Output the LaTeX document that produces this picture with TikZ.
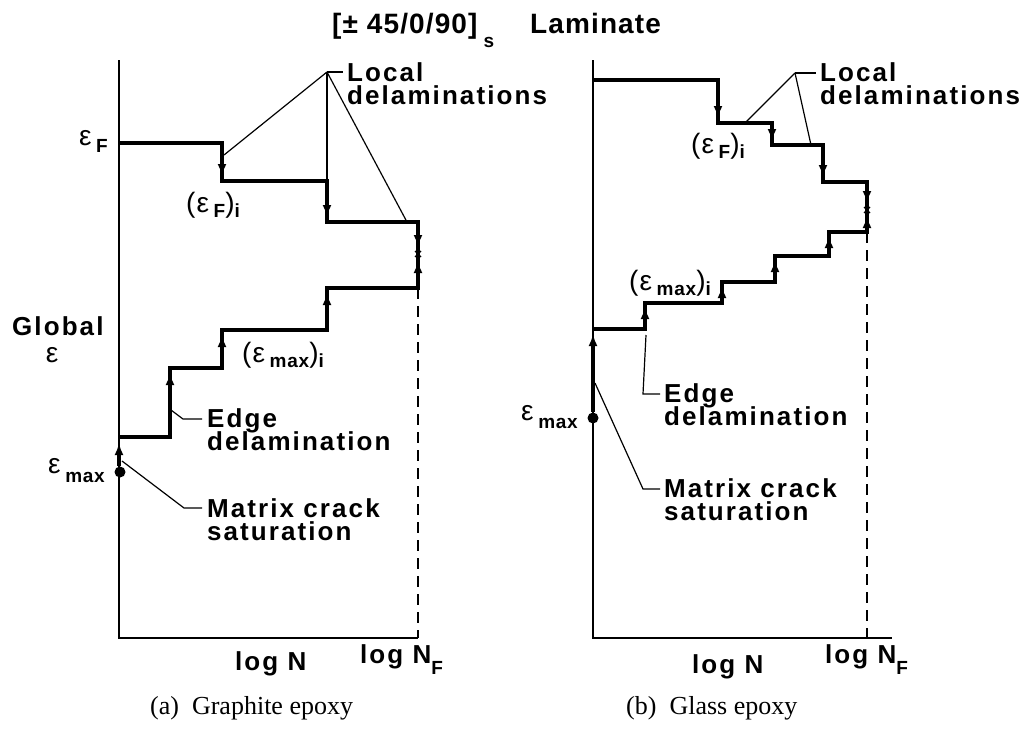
\documentclass[tikz,border=0pt]{standalone}
\usepackage{fontspec}
\setmainfont{Liberation Serif}
\newfontfamily\hv[LetterSpace=8]{Liberation Sans}
\newfontfamily\hvt[LetterSpace=4]{Liberation Sans}
\usetikzlibrary{arrows.meta}
\newcommand{\lblf}{\hv\bfseries\fontsize{26}{23}\selectfont\lineskiplimit=-50pt\lineskip=0pt}
\newcommand{\ttlf}{\hvt\bfseries\fontsize{28}{21}\selectfont}
\newcommand{\rgf}{\hvt\mdseries\fontsize{28}{28}\selectfont}
\newcommand{\subf}[2][6pt]{\raisebox{-#1}{\hvt\bfseries\fontsize{19}{19}\selectfont #2}}
\begin{document}
\begin{tikzpicture}[x=1pt,y=-1pt,
  stair/.style={line width=3.2pt, line join=miter},
  axisln/.style={line width=2.8pt, line join=miter},
  lead/.style={line width=1.2pt},
  dsh/.style={line width=2.8pt, dash pattern=on 11pt off 7pt},
  arr/.style={line width=3.2pt, -{Latex[length=12pt,width=9pt]}},
  txt/.style={inner sep=0pt, anchor=base west, font=\lblf},
  twoln/.style={inner sep=0pt, anchor=north west, align=left, font=\lblf},
  ttl/.style={inner sep=0pt, anchor=base west, font=\ttlf},
  sym/.style={inner sep=0pt, font=\rgf},
  capt/.style={inner sep=0pt, anchor=base west, font=\fontsize{26}{26}\selectfont},
  xmark/.style={line width=1.2pt}
]
\useasboundingbox (0,0) rectangle (1031,736);

% ---------------- title
\node[ttl] (title) at (332,33) {[±~45/0/90]\subf[14pt]{~s}};
\node[ttl] (lam) at (530,33) {Laminate};

% ================= LEFT PANEL (a) =================
\coordinate (La0) at (119,60);
\coordinate (La1) at (119,638);
\coordinate (La2) at (418,638);
\draw[axisln] (La0) -- (La1) -- (La2);
\draw[dsh] (418,288) -- (La2);

% upper staircase (failure strain)
\draw[stair] (119,143) -- (222,143) -- (222,181) -- (327,181) -- (327,222) -- (418,222) -- (418,255);
\draw[arr] (222,150) -- (222,176);
\draw[arr] (327,188) -- (327,217);
\draw[arr] (418,226) -- (418,247);
% lower staircase (max strain)
\draw[stair] (119,437) -- (170,437) -- (170,368) -- (222,368) -- (222,330) -- (327,330) -- (327,288) -- (418,288) -- (418,255);
\draw[arr] (119,466) -- (119,443);
\draw[arr] (170,400) -- (170,373);
\draw[arr] (222,360) -- (222,335);
\draw[arr] (327,320) -- (327,293);
\draw[arr] (418,284) -- (418,261);
\draw[xmark] (415,251) -- (421,257) (415,257) -- (421,251);
\fill (120,472) circle (5.5pt);

% labels left
\node[sym, anchor=base east] (eFL) at (108,145) {ε\,\subf[7pt]{F}};
\node[sym, anchor=base east] (emL) at (105,473) {ε\,\subf[9pt]{max}};
\node[txt] (glob) at (12,335) {Global};
\node[sym, anchor=base] (geps) at (52,362) {ε};
\node[sym, anchor=base] (eFiL) at (213,212) {(ε\,\subf[5pt]{F})\subf[5pt]{i}};
\node[sym, anchor=base] (emiL) at (283,362) {(ε\,\subf[5pt]{max})\subf[5pt]{i}};

\node[twoln] (locL) at (347,62.4) {Local\\delaminations};
\coordinate (apL) at (327,72);
\draw[lead] (apL) -- (343,72);
\draw[lead] (apL) -- (224,155);
\draw[lead] (apL) -- (327,181);
\draw[lead] (apL) -- (407,222);

\node[twoln] (edgeL) at (207,408.4) {Edge\\delamination};
\draw[lead] (171,410) -- (183,419) -- (202,419);

\node[twoln] (matL) at (207,498.4) {Matrix crack\\saturation};
\draw[lead] (122,461) -- (184,508) -- (202,508);

\node[txt] (lnL) at (235,670) {log N};
\node[txt] (lnfL) at (360,663) {log N\subf[11pt]{F}};
\node[capt] (capA) at (150,714) {(a)\ \ Graphite epoxy};

% ================= RIGHT PANEL (b) =================
\coordinate (Rb0) at (593,60);
\coordinate (Rb1) at (593,638);
\coordinate (Rb2) at (892,638);
\draw[axisln] (Rb0) -- (Rb1) -- (Rb2);
\draw[dsh] (867,232) -- (867,638);

\draw[stair] (593,80) -- (718,80) -- (718,123) -- (772,123) -- (772,145) -- (823,145) -- (823,182) -- (867,182) -- (867,210);
\draw[arr] (718,90) -- (718,118);
\draw[arr] (772,126) -- (772,141);
\draw[arr] (823,152) -- (823,177);
\draw[arr] (867,185) -- (867,203);
\draw[stair] (593,329) -- (645,329) -- (645,303) -- (722,303) -- (722,282) -- (775,282) -- (775,256) -- (829,256) -- (829,232) -- (867,232) -- (867,210);
\draw[arr] (593,412) -- (593,334);
\draw[arr] (645,326) -- (645,307);
\draw[arr] (722,301) -- (722,286);
\draw[arr] (775,280) -- (775,260);
\draw[arr] (829,254) -- (829,236);
\draw[arr] (867,230) -- (867,216);
\draw[xmark] (864,207) -- (870,213) (864,213) -- (870,207);
\fill (593,418) circle (5.5pt);

\node[sym, anchor=base east] (emR) at (578,420) {ε\,\subf[8pt]{max}};
\node[sym, anchor=base] (eFiR) at (718,153) {(ε\,\subf[5pt]{F})\subf[5pt]{i}};
\node[sym, anchor=base] (emiR) at (670,290) {(ε\,\subf[5pt]{max})\subf[5pt]{i}};

\node[twoln] (locR) at (820,62.4) {Local\\delaminations};
\coordinate (apR) at (795,73);
\draw[lead] (apR) -- (816,73);
\draw[lead] (apR) -- (745,123);
\draw[lead] (apR) -- (811,145);

\node[twoln] (edgeR) at (664,383.4) {Edge\\delamination};
\draw[lead] (646,335) -- (643,394) -- (660,394);

\node[twoln] (matR) at (664,478.4) {Matrix crack\\saturation};
\draw[lead] (595,383) -- (643,489) -- (660,489);

\node[txt] (lnR) at (692,673) {log N};
\node[txt] (lnfR) at (825,663) {log N\subf[11pt]{F}};
\node[capt] (capB) at (626,714) {(b)\ \ Glass epoxy};
\end{tikzpicture}
\end{document}
